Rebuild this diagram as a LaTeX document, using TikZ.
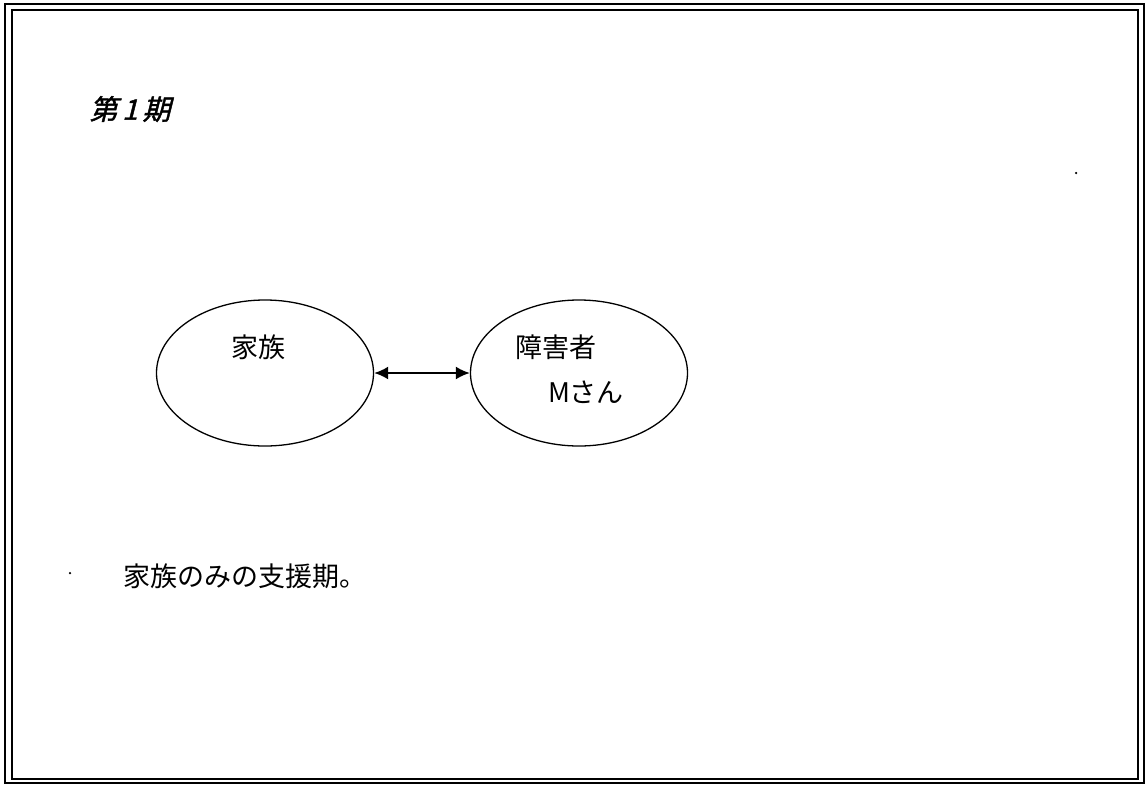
\documentclass[tikz,border=0pt]{standalone}
\usepackage{fontspec}
\setmainfont{Noto Sans CJK JP}
\newfontfamily\jpslant[FakeSlant=0.25,FakeBold=1.5]{Noto Sans CJK JP}
\usetikzlibrary{arrows.meta,shapes.geometric}
\begin{document}
\begin{tikzpicture}[x=1pt,y=-1pt,
  oval/.style={draw,ellipse,line width=1.3pt,minimum width=217pt,minimum height=146pt,inner sep=0pt},
  lbl/.style={inner sep=0pt,font=\fontsize{27}{30}\selectfont},
  frameline/.style={draw,line width=2.4pt},
  speck/.style={fill=black,circle,inner sep=0pt,minimum size=2.5pt}]
\useasboundingbox (0,0) rectangle (1146,785);
\fill[white] (0,0) rectangle (1146,785);
% double frame
\draw[frameline] (5,4) rectangle (1144,783);
\draw[line width=2pt] (12,10) rectangle (1138,779);
% title
\node[inner sep=0pt,font=\jpslant\fontsize{28}{32}\selectfont] (title) at (130,109) {第\,1\,期};
% ellipses
\node[oval] (fam) at (265,373) {};
\node[oval] (dis) at (579,373) {};
\node[lbl] (famtxt) at (258,347) {家族};
\node[lbl] (distxt) at (556,347) {障害者};
\node[lbl] (mtxt) at (586,392) {Mさん};
\draw[line width=2pt,{Latex[length=14pt,width=13pt]}-{Latex[length=14pt,width=13pt]}] (fam.east) -- (dis.west);
% caption
\node[lbl,anchor=west] (cap) at (123,576) {家族のみの支援期。};
% specks
\node[speck] (s1) at (70,573) {};
\node[speck] (s2) at (1076,173) {};
\end{tikzpicture}
\end{document}
